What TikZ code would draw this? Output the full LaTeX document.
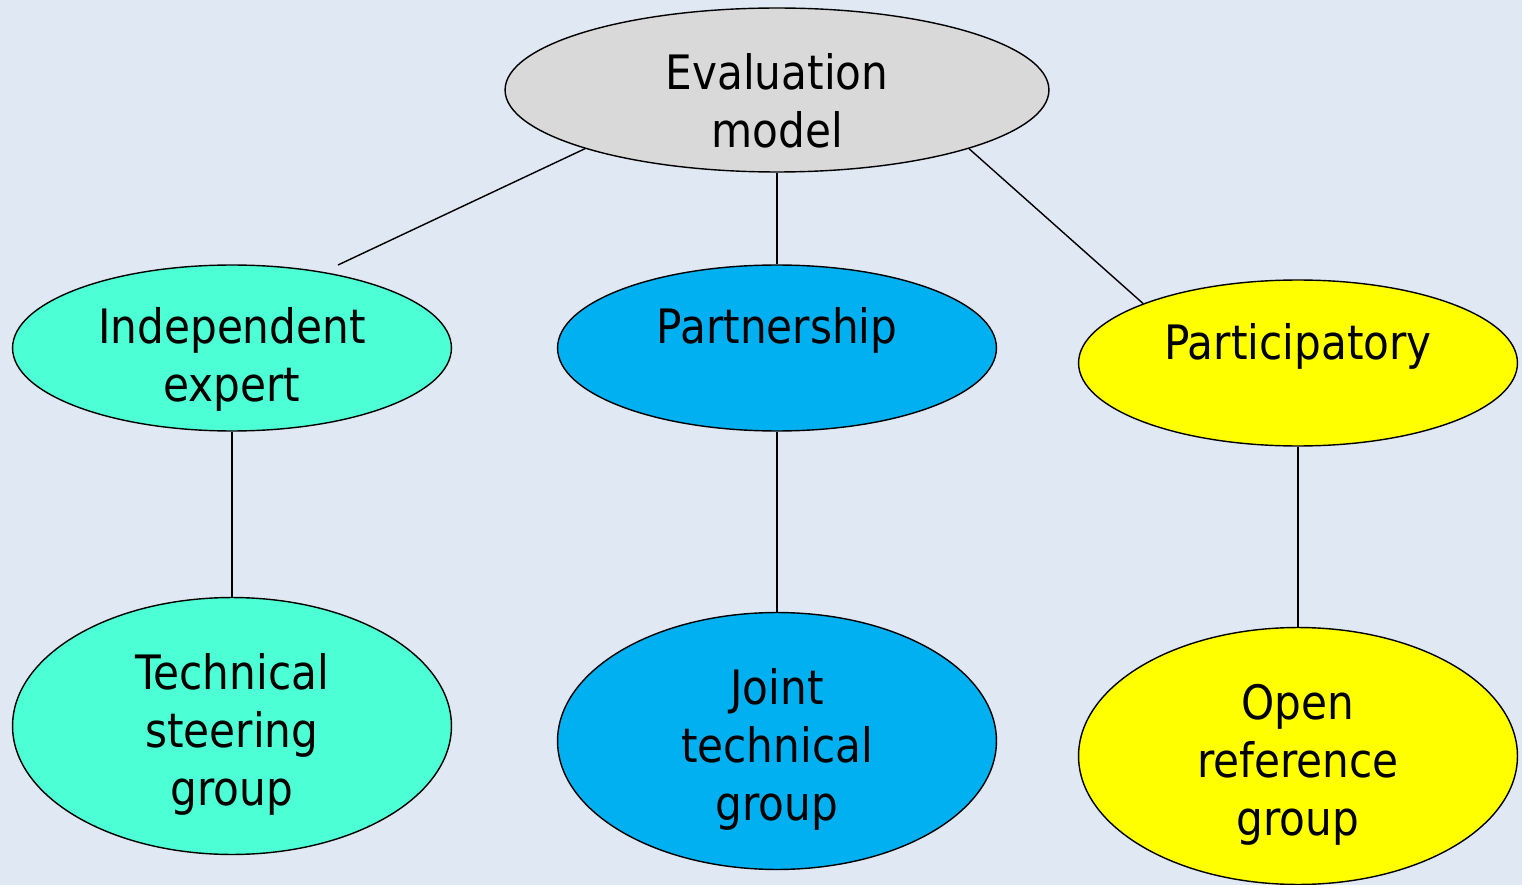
\documentclass[tikz,border=0pt]{standalone}
\usepackage{fontspec}
\setmainfont{DejaVu Sans}[FakeStretch=0.89]
\usetikzlibrary{shapes.geometric}
\definecolor{bgblue}{RGB}{224,232,244}
\definecolor{evalgray}{RGB}{217,217,217}
\definecolor{expertgreen}{RGB}{76,255,212}
\definecolor{partnerblue}{RGB}{0,176,240}
\definecolor{partyellow}{RGB}{255,255,0}
\tikzset{
  bubble/.style={ellipse,draw=black,line width=0.8pt,inner sep=0pt},
  small/.style={bubble,minimum width=8.78cm,minimum height=3.32cm},
  big/.style={bubble,minimum width=8.78cm,minimum height=5.14cm},
  txt/.style={align=center,font=\fontsize{27}{33}\selectfont},
  link/.style={line width=0.8pt}
}
\begin{document}
\begin{tikzpicture}[x=0.02cm,y=-0.02cm]
		\fill[bgblue] (0,0) rectangle (1522,885);
		\useasboundingbox (0,0) rectangle (1522,885);
		% ellipses
		\node[bubble,fill=evalgray,minimum width=10.88cm,minimum height=3.28cm] (eval) at (777,90) {};
		\node[small,fill=expertgreen] (expert) at (232,348) {};
		\node[small,fill=partnerblue] (partner) at (777,348) {};
		\node[small,fill=partyellow] (partic) at (1298,363) {};
		\node[big,fill=expertgreen] (steering) at (232,726) {};
		\node[big,fill=partnerblue] (joint) at (777,741) {};
		\node[big,fill=partyellow] (openref) at (1298,756) {};
		% texts
		\node[txt] (evaltext) at (777,101) {Evaluation\\model};
		\node[txt] (experttext) at (232,359) {Independent\\expert};
		\node[txt] (partnertext) at (777,330) {Partnership};
		\node[txt] (partictext) at (1298,346) {Participatory};
		\node[txt] (steeringtext) at (232,734) {Technical\\steering\\group};
		\node[txt] (jointtext) at (777,749) {Joint\\technical\\group};
		\node[txt] (openreftext) at (1298,765) {Open\\reference\\group};
		% links
		\coordinate (expertend) at (338,265);
		\draw[link] (eval.-163) -- (expertend);
		\draw[link] (eval.south) -- (partner.north);
		\draw[link] (eval.-17) -- (partic.159);
		\draw[link] (expert.south) -- (steering.north);
		\draw[link] (partner.south) -- (joint.north);
		\draw[link] (partic.south) -- (openref.north);
\end{tikzpicture}
\end{document}
